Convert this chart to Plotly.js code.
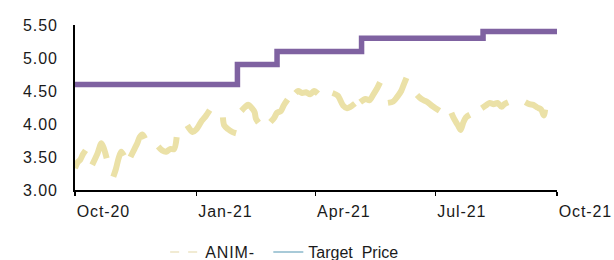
<!DOCTYPE html>
<html>
<head>
<meta charset="utf-8">
<script src="https://cdn.plot.ly/plotly-3.0.1.min.js"></script>
<style>
html,body{margin:0;padding:0;background:#fff;}
#chart{width:614px;height:260px;}
#chart .xtick text, #chart .ytick text, #chart .legendtext {letter-spacing: 0.9px;}
</style>
</head>
<body>
<div id="chart"></div>
<script>
// Share price (ANIM-), null = gap between plotted runs
const priceDates = [
  '2020-10-01','2020-10-03','2020-10-05','2020-10-07','2020-10-09',null,
  '2020-10-14','2020-10-18','2020-10-21','2020-10-23','2020-10-25',null,
  '2020-10-30','2020-11-01','2020-11-03','2020-11-05','2020-11-07',null,
  '2020-11-12','2020-11-15','2020-11-17','2020-11-19','2020-11-21','2020-11-23',null,
  '2020-12-03','2020-12-06','2020-12-09','2020-12-12','2020-12-15','2020-12-17',null,
  '2020-12-25','2020-12-29','2021-01-01','2021-01-05','2021-01-08','2021-01-11',null,
  '2021-01-21','2021-01-22','2021-01-25','2021-01-28','2021-01-31',null,
  '2021-02-04','2021-02-07','2021-02-09','2021-02-12','2021-02-14','2021-02-15','2021-02-17',null,
  '2021-02-26','2021-03-01','2021-03-03','2021-03-06','2021-03-08','2021-03-11',null,
  '2021-03-17','2021-03-19','2021-03-22','2021-03-25','2021-03-28','2021-03-31','2021-04-03',null,
  '2021-04-14','2021-04-18','2021-04-22','2021-04-25','2021-04-29','2021-05-01',null,
  '2021-05-05','2021-05-09','2021-05-12','2021-05-15','2021-05-18','2021-05-20',null,
  '2021-05-26','2021-05-30','2021-06-02','2021-06-05','2021-06-07','2021-06-09',null,
  '2021-06-17','2021-06-19','2021-06-22','2021-06-25','2021-06-28','2021-07-01','2021-07-04',null,
  '2021-07-13','2021-07-15','2021-07-18','2021-07-20','2021-07-22','2021-07-24','2021-07-27',null,
  '2021-08-05','2021-08-08','2021-08-11','2021-08-14','2021-08-17','2021-08-20','2021-08-22','2021-08-25',null,
  '2021-09-07','2021-09-10','2021-09-13','2021-09-16','2021-09-19','2021-09-21','2021-09-22'
];
const priceValues = [
  3.33,3.42,3.46,3.54,3.60,null,
  3.38,3.55,3.71,3.62,3.48,null,
  3.20,3.32,3.48,3.58,3.52,null,
  3.50,3.62,3.70,3.80,3.84,3.78,null,
  3.66,3.60,3.58,3.62,3.62,3.80,null,
  3.98,3.88,3.92,4.05,4.12,4.21,null,
  4.10,3.98,3.92,3.88,3.86,null,
  4.20,4.26,4.29,4.24,4.18,4.08,4.02,null,
  4.03,4.10,4.17,4.20,4.28,4.37,null,
  4.47,4.50,4.47,4.48,4.45,4.50,4.46,null,
  4.47,4.43,4.28,4.24,4.28,4.31,null,
  4.33,4.38,4.36,4.45,4.55,4.63,null,
  4.32,4.34,4.41,4.50,4.60,4.70,null,
  4.44,4.40,4.36,4.33,4.28,4.24,4.20,null,
  4.17,4.08,3.98,3.91,4.02,4.10,4.14,null,
  4.24,4.28,4.32,4.30,4.32,4.26,4.30,4.33,null,
  4.33,4.30,4.29,4.25,4.22,4.13,4.22
];
// Target price (step changes)
const targetDates  = ['2020-10-01','2021-02-01','2021-03-03','2021-05-06','2021-08-06','2021-10-01'];
const targetValues = [4.60, 4.90, 5.10, 5.30, 5.40, 5.40];

const xTickVals   = ['2020-10-01','2021-01-01','2021-04-01','2021-07-01','2021-10-01'];
const xTickLabels = ['Oct-20','Jan-21','Apr-21','Jul-21','Oct-21'];
const seriesNames = ['ANIM-','Target  Price'];

const FONT = 'Liberation Sans, Arial, sans-serif';

const traces = [
  {x: priceDates, y: priceValues, type: 'scatter', mode: 'lines', connectgaps: false,
   line: {color: '#ebe1a7', width: 6, shape: 'spline', smoothing: 0.8}, showlegend: false, hoverinfo: 'skip'},
  {x: targetDates, y: targetValues, type: 'scatter', mode: 'lines',
   line: {color: '#7f62a1', width: 5.5, shape: 'hv'}, showlegend: false, hoverinfo: 'skip'},
  {x: [null], y: [null], type: 'scatter', mode: 'lines', name: seriesNames[0], legend: 'legend',
   line: {color: '#f1ebd3', width: 2, dash: 'dash'}},
  {x: [null], y: [null], type: 'scatter', mode: 'lines', name: seriesNames[1], legend: 'legend2',
   line: {color: '#a8cad8', width: 2}}
];

const legendBase = {orientation: 'h', xref: 'container', xanchor: 'left',
  y: 0.03, yref: 'container', yanchor: 'middle',
  font: {family: FONT, size: 16, color: '#1a1a1a'}, bgcolor: 'rgba(0,0,0,0)'};

const layout = {
  width: 614, height: 260,
  margin: {l: 75, r: 57, t: 25, b: 70, autoexpand: false},
  paper_bgcolor: '#fff', plot_bgcolor: '#fff',
  font: {family: FONT, size: 16, color: '#1a1a1a'},
  showlegend: true,
  legend: Object.assign({}, legendBase, {x: 0.269}),
  legend2: Object.assign({}, legendBase, {x: 0.437}),
  xaxis: {type: 'date', range: ['2020-10-01','2021-10-01'],
          tickmode: 'array', tickvals: xTickVals, ticktext: xTickLabels,
          ticks: 'outside', ticklen: 4, tickwidth: 1.5, tickcolor: '#000',
          ticklabelposition: 'outside right', ticklabelstandoff: 6,
          showline: true, linecolor: '#000', linewidth: 2,
          showgrid: false, zeroline: false, fixedrange: true},
  yaxis: {range: [3, 5.5], dtick: 0.5, tick0: 3, tickformat: '.2f',
          ticks: '', showline: true, linecolor: '#000', linewidth: 2,
          showgrid: false, zeroline: false, fixedrange: true, ticklabelstandoff: 12}
};

Plotly.newPlot('chart', traces, layout, {displayModeBar: false, staticPlot: true});
</script>
</body>
</html>
